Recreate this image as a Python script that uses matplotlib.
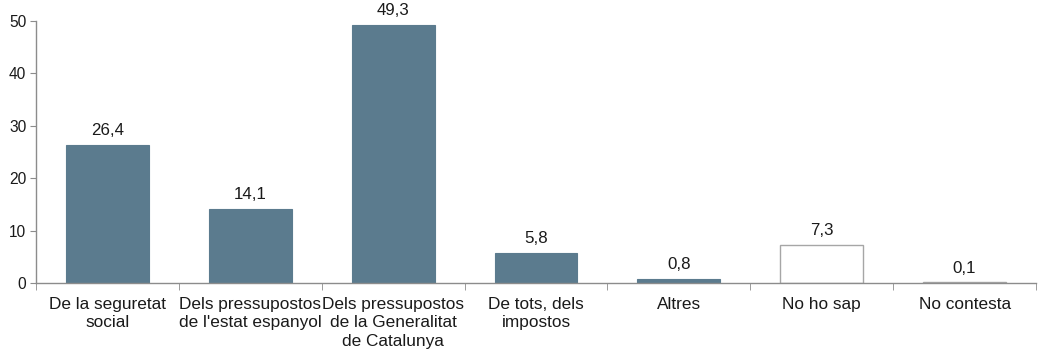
import numpy as np
import matplotlib.pyplot as plt
from matplotlib.ticker import FixedLocator, NullFormatter

plt.rcParams['font.family'] = ['Liberation Sans', 'DejaVu Sans']

categories = ["De la seguretat\nsocial", "Dels pressupostos\nde l'estat espanyol",
              "Dels pressupostos\nde la Generalitat\nde Catalunya", "De tots, dels\nimpostos",
              "Altres", "No ho sap", "No contesta"]
values = [26.4, 14.1, 49.3, 5.8, 0.8, 7.3, 0.1]
value_labels = ["26,4", "14,1", "49,3", "5,8", "0,8", "7,3", "0,1"]
filled = [True, True, True, True, True, False, False]

fig = plt.figure(figsize=(10.39, 3.53), dpi=100)
ax = fig.add_axes([36 / 1039, 1 - 283 / 353, 1000 / 1039, 262 / 353])

x = np.arange(len(categories))
blue = '#5b7b8e'
for xi, v, f, lab in zip(x, values, filled, value_labels):
    if f:
        ax.bar(xi, v, width=0.58, color=blue, edgecolor=blue, linewidth=0.8)
    else:
        ax.bar(xi, v, width=0.58, color='white', edgecolor='#a6a6a6', linewidth=1.0)
    ax.text(xi, v + 1.3, lab, ha='center', va='bottom', fontsize=12.2, color='#1a1a1a')

ax.set_xlim(-0.5, len(categories) - 0.5)
ax.set_ylim(0, 50)
ax.set_yticks([0, 10, 20, 30, 40, 50])
ax.tick_params(axis='y', labelsize=11.2, colors='#1a1a1a', length=4, color='#8c8c8c', pad=3)

ax.set_xticks(x)
ax.set_xticklabels(categories, fontsize=12.4, color='#1a1a1a', linespacing=1.3)
ax.tick_params(axis='x', which='major', length=0, pad=10)
ax.xaxis.set_minor_locator(FixedLocator(np.arange(-0.5, len(categories), 1.0)))
ax.xaxis.set_minor_formatter(NullFormatter())
ax.tick_params(axis='x', which='minor', length=5, color='#8c8c8c')

for s in ['top', 'right']:
    ax.spines[s].set_visible(False)
for s in ['left', 'bottom']:
    ax.spines[s].set_color('#8c8c8c')
    ax.spines[s].set_linewidth(1.0)

fig.savefig('out.png', dpi=100)
